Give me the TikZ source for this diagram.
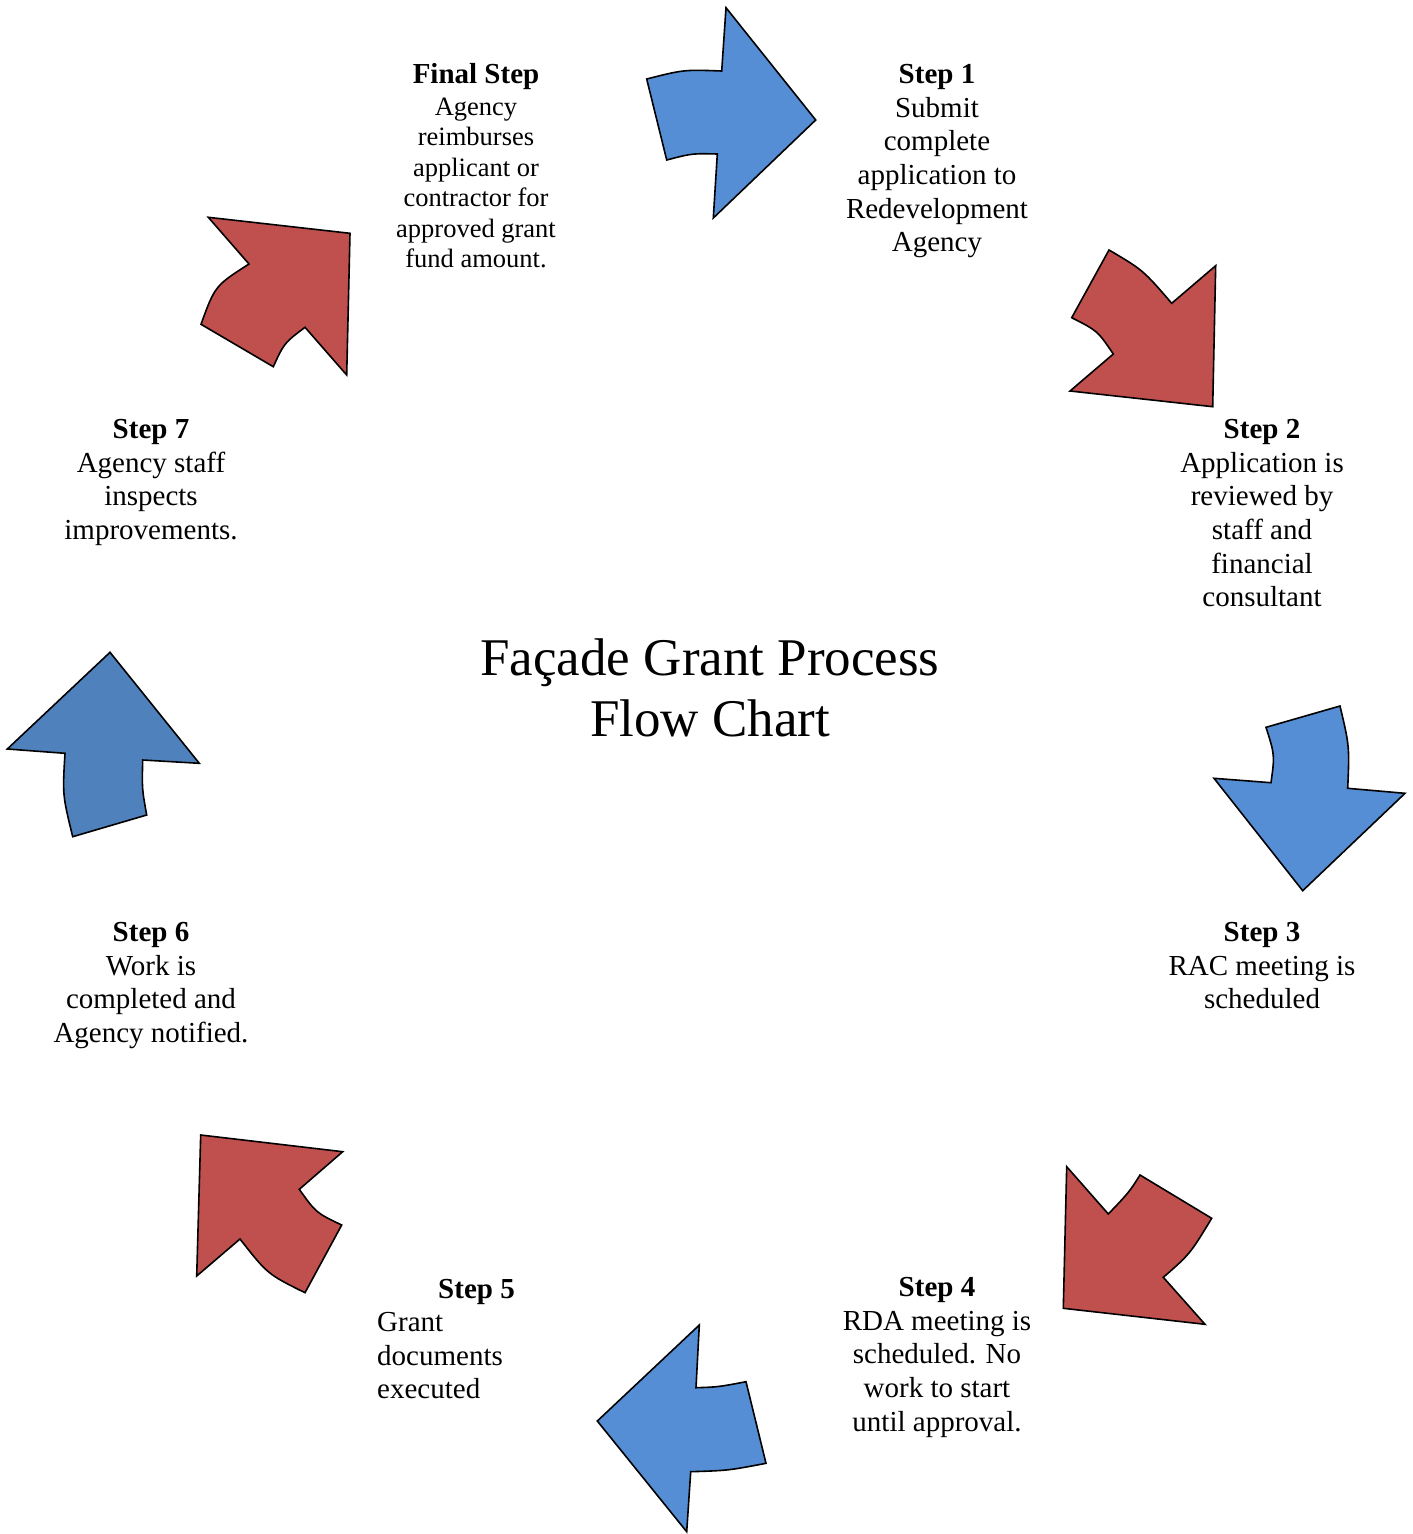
\documentclass[tikz,border=0pt]{standalone}
\usepackage{fontspec}
\setmainfont{Liberation Serif}
\definecolor{ablue}{RGB}{85,142,213}
\definecolor{ablueb}{RGB}{79,129,189}
\definecolor{ared}{RGB}{192,80,77}
\begin{document}
\begin{tikzpicture}[x=1pt,y=-1pt,
  blk/.style={draw=black,line width=1.6pt,line join=miter},
  head/.style={inner sep=0pt,anchor=base,font=\fontsize{29}{33.7}\selectfont\bfseries},
  body/.style={inner sep=0pt,anchor=base,align=center,font=\fontsize{29}{33.7}\selectfont},
  bodys/.style={inner sep=0pt,anchor=base,align=center,font=\fontsize{26.5}{30.5}\selectfont},
  title/.style={inner sep=0pt,anchor=base,align=center,font=\fontsize{53}{61}\selectfont}]
\useasboundingbox (0,0) rectangle (1413,1534);
% arrow 1 (top, right)
\draw[blk,fill=ablue] (646.7,79) .. controls (683.8,69.6) .. (721.7,71) -- (726,7.7) -- (815.7,120) -- (713.3,218) -- (717.3,154) .. controls (692,153.4) .. (666.7,160) -- cycle;
% arrow 2 (down-right)
\draw[blk,fill=ared] (1109,250) .. controls (1143,270) .. (1171.7,303.3) -- (1215.7,265.7) -- (1212.7,406.7) -- (1070,391) -- (1113.3,354) .. controls (1097.5,330.8) .. (1071.7,317.7) -- cycle;
% arrow 3 (down)
\draw[blk,fill=ablue] (1266,727.3) -- (1340,706) .. controls (1349.5,746.2) .. (1347.7,788.3) -- (1405,793.3) -- (1302.7,890.7) -- (1214,778.3) -- (1271,782.7) .. controls (1274.8,755) .. cycle;
% arrow 4 (down-left)
\draw[blk,fill=ared] (1066.7,1166.7) -- (1108.3,1214) .. controls (1129.2,1192.1) .. (1140,1175) -- (1211.7,1218.3) .. controls (1190,1254) .. (1163.3,1277.3) -- (1205,1324.3) -- (1063.3,1308.3) -- cycle;
% arrow 5 (left)
\draw[blk,fill=ablue] (699.3,1325) -- (696,1387.7) .. controls (718,1387) .. (746,1381.7) -- (766,1463.3) .. controls (728.2,1470.5) .. (690.7,1471.7) -- (686.7,1531.7) -- (597.3,1421) -- cycle;
% arrow 6 (up-left)
\draw[blk,fill=ared] (200.7,1135) -- (342.7,1151.7) -- (299.3,1189.3) .. controls (316.1,1212.8) .. (341.7,1225) -- (305,1292.7) .. controls (267.5,1274.1) .. (240,1239) -- (196.7,1276) -- cycle;
% arrow 7 (up)
\draw[blk,fill=ablueb] (110,652.3) -- (199.3,763.3) -- (142.7,760) .. controls (142,789) .. (146.7,815) -- (72.7,836.7) .. controls (62.5,795) .. (65,753.3) -- (7.3,749) -- cycle;
% arrow 8 (up-right)
\draw[blk,fill=ared] (208.3,217.3) -- (350,233.3) -- (346.7,375) -- (305,327.3) .. controls (284.2,343) .. (273.3,366.7) -- (201,324.3) .. controls (215,285.8) .. (249,264) -- cycle;
% title
\node[title] (t1) at (710,675) {Façade Grant Process};
\node[title] (t2) at (710,736) {Flow Chart};
% final step
\node[head] (hf) at (476,83) {Final Step};
\node[bodys] (bf) at (476,267.5) {Agency\\reimburses\\applicant or\\contractor for\\approved grant\\fund amount.};
% step 1
\node[head] (h1) at (937,83) {Step 1};
\node[body] (b1) at (937,251.8) {Submit\\complete\\application to\\Redevelopment\\Agency};
% step 2
\node[head] (h2) at (1262,438) {Step 2};
\node[body] (b2) at (1262,606.8) {Application is\\reviewed by\\staff and\\financial\\consultant};
% step 3
\node[head] (h3) at (1262,941) {Step 3};
\node[body] (b3) at (1262,1008.7) {RAC meeting is\\scheduled};
% step 4
\node[head] (h4) at (937,1296) {Step 4};
\node[body] (b4) at (937,1431.1) {RDA meeting is\\scheduled. No\\work to start\\until approval.};
% step 5
\node[head] (h5) at (476.5,1298) {Step 5};
\node[body,align=left,anchor=base west] (b5) at (377,1398.9) {Grant\\documents\\executed};
% step 6
\node[head] (h6) at (151,941) {Step 6};
\node[body] (b6) at (151,1042.4) {Work is\\completed and\\Agency notified.};
% step 7
\node[head] (h7) at (151,438) {Step 7};
\node[body] (b7) at (151,539.4) {Agency staff\\inspects\\improvements.};
\end{tikzpicture}
\end{document}
